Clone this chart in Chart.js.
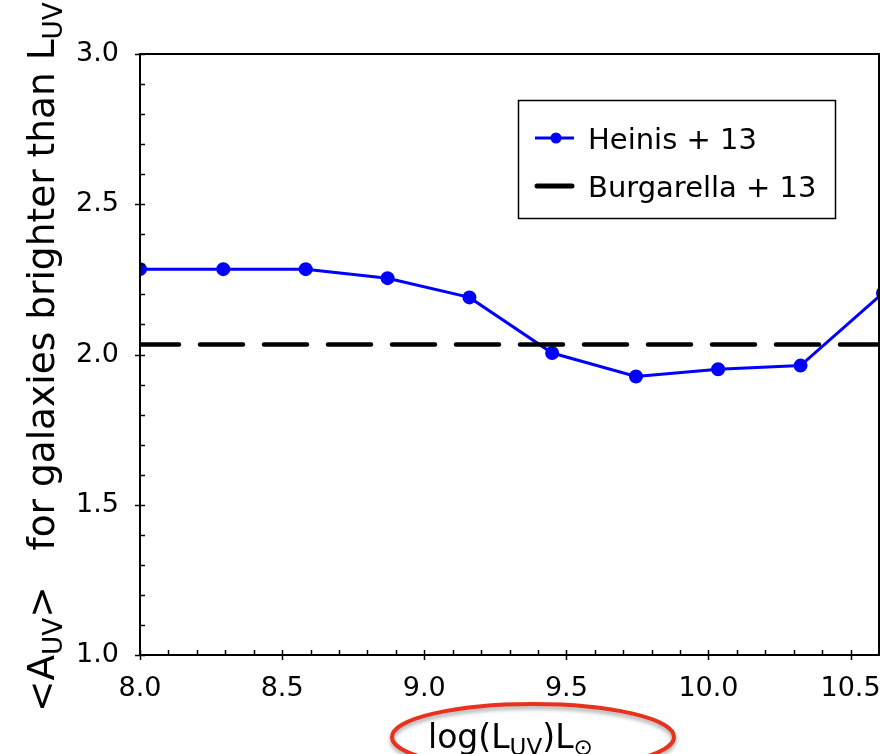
<!DOCTYPE html>
<html>
<head>
<meta charset="utf-8">
<script src="https://cdn.jsdelivr.net/npm/chart.js@4.4.1/dist/chart.umd.min.js"></script>
<style>
  html, body { margin: 0; padding: 0; background: #fff; }
  #wrap { width: 893px; height: 754px; }
</style>
</head>
<body>
<div id="wrap"><canvas id="chart"></canvas></div>
<script>
// values
const logL = [8.0, 8.293, 8.583, 8.871, 9.159, 9.45, 9.745, 10.034, 10.324, 10.614];
const heinis = [2.284, 2.284, 2.284, 2.254, 2.19, 2.005, 1.927, 1.951, 1.963, 2.205];
const burgX = [8.0, 10.7];
const burgY = [2.033, 2.033];
const xTickLabels = [8.0, 8.5, 9.0, 9.5, 10.0, 10.5];
const yTickLabels = [1.0, 1.5, 2.0, 2.5, 3.0];

const FONT = "'DejaVu Sans', sans-serif";

// draw text made of normal / subscript pieces, left to right from (0,0)
function richText(ctx, parts, size) {
  let x = 0;
  for (const p of parts) {
    const s = p.sub ? size * 0.7 : size;
    ctx.font = s + "px " + FONT;
    ctx.fillText(p.t, x, p.sub ? size * 0.22 : 0);
    x += ctx.measureText(p.t).width;
  }
  return x;
}

const framePlugin = {
  id: "frame",
  afterDraw(chart) {
    const ctx = chart.ctx;
    const a = chart.chartArea;
    const xs = chart.scales.x, ys = chart.scales.y;
    ctx.save();
    ctx.strokeStyle = "#000";
    ctx.lineWidth = 2;
    ctx.strokeRect(a.left, a.top, a.right - a.left, a.bottom - a.top);

    // y ticks
    ctx.lineWidth = 1.5;
    for (let i = 0; i <= 20; i++) {
      const v = 1 + i * 0.1;
      const py = Math.round(ys.getPixelForValue(v)) + 0.5;
      const major = i % 5 === 0;
      ctx.beginPath();
      ctx.moveTo(a.left - (major ? 5 : 0), py);
      ctx.lineTo(a.left + 5, py);
      ctx.stroke();
    }
    // x ticks
    for (let i = 0; i <= 25; i++) {
      const v = 8 + i * 0.1;
      if (v > xs.max) break;
      const px = Math.round(xs.getPixelForValue(v)) + 0.5;
      const major = i % 5 === 0;
      ctx.beginPath();
      ctx.moveTo(px, a.bottom + (major ? 5 : 0));
      ctx.lineTo(px, a.bottom - 5);
      ctx.stroke();
    }

    // legend
    const ds = chart.data.datasets;
    ctx.lineWidth = 1.5;
    ctx.strokeRect(518.5, 100.5, 317, 118);
    ctx.strokeStyle = "#0000ff";
    ctx.lineWidth = 3;
    ctx.beginPath(); ctx.moveTo(535, 138); ctx.lineTo(574, 138); ctx.stroke();
    ctx.fillStyle = "#0000ff";
    ctx.beginPath(); ctx.arc(556, 138, 5.5, 0, Math.PI * 2); ctx.fill();
    ctx.strokeStyle = "#000";
    ctx.lineWidth = 5;
    ctx.lineCap = "round";
    ctx.beginPath(); ctx.moveTo(537, 186); ctx.lineTo(572, 186); ctx.stroke();
    ctx.fillStyle = "#000";
    ctx.font = "29px " + FONT;
    ctx.textBaseline = "alphabetic";
    ctx.fillText(ds[0].label, 588, 149);
    ctx.fillText(ds[1].label, 588, 197);

    // y title
    ctx.save();
    ctx.translate(54, 712);
    ctx.rotate(-Math.PI / 2);
    richText(ctx, [
      { t: "<A" }, { t: "UV", sub: true }, { t: ">   for galaxies brighter than L" }, { t: "UV", sub: true }
    ], 37.5);
    ctx.restore();

    // x title
    ctx.save();
    ctx.translate(428, 748);
    richText(ctx, [
      { t: "log(L" }, { t: "UV", sub: true }, { t: ")L" }, { t: "\u2299", sub: true }
    ], 33);
    ctx.restore();

    // red ellipse annotation
    ctx.save();
    ctx.shadowColor = "rgba(0,0,0,0.35)";
    ctx.shadowBlur = 4;
    ctx.shadowOffsetY = 3;
    ctx.strokeStyle = "#e8321e";
    ctx.lineWidth = 4;
    ctx.beginPath();
    ctx.ellipse(533, 737, 141, 33, 0, 0, Math.PI * 2);
    ctx.stroke();
    ctx.restore();

    ctx.restore();
  }
};

new Chart(document.getElementById("chart"), {
  type: "scatter",
  data: {
    datasets: [
      {
        label: "Heinis + 13",
        data: logL.map((x, i) => ({ x: x, y: heinis[i] })),
        showLine: true,
        borderColor: "#0000ff",
        backgroundColor: "#0000ff",
        borderWidth: 3,
        pointRadius: 5.5,
        pointHoverRadius: 5.5,
        clip: 0,
        order: 2
      },
      {
        label: "Burgarella + 13",
        data: burgX.map((x, i) => ({ x: x, y: burgY[i] })),
        showLine: true,
        borderColor: "#000",
        borderWidth: 4.5,
        borderDash: [43, 21],
        borderDashOffset: 4,
        borderCapStyle: "round",
        pointRadius: 0,
        clip: 0,
        order: 1
      }
    ]
  },
  options: {
    responsive: true,
    maintainAspectRatio: false,
    animation: false,
    layout: { padding: { top: 54, right: 14, left: 0, bottom: 0 } },
    plugins: {
      legend: { display: false },
      tooltip: { enabled: false }
    },
    scales: {
      x: {
        type: "linear",
        min: 8.0,
        max: 10.6,
        afterFit(s) { s.height = 99; s.paddingLeft = 0; s.paddingRight = 0; },
        afterBuildTicks(s) { s.ticks = xTickLabels.map(v => ({ value: v })); },
        grid: { display: false, drawTicks: false },
        border: { display: false },
        ticks: {
          padding: 18,
          color: "#000",
          font: { family: "DejaVu Sans", size: 27 },
          callback: v => v.toFixed(1)
        }
      },
      y: {
        min: 1.0,
        max: 3.0,
        afterFit(s) { s.width = 140; s.paddingTop = 0; s.paddingBottom = 0; },
        afterBuildTicks(s) { s.ticks = yTickLabels.map(v => ({ value: v })); },
        grid: { display: false, drawTicks: false },
        border: { display: false },
        ticks: {
          padding: 21,
          color: "#000",
          font: { family: "DejaVu Sans", size: 27 },
          callback: v => v.toFixed(1)
        }
      }
    }
  },
  plugins: [framePlugin]
});
</script>
</body>
</html>
